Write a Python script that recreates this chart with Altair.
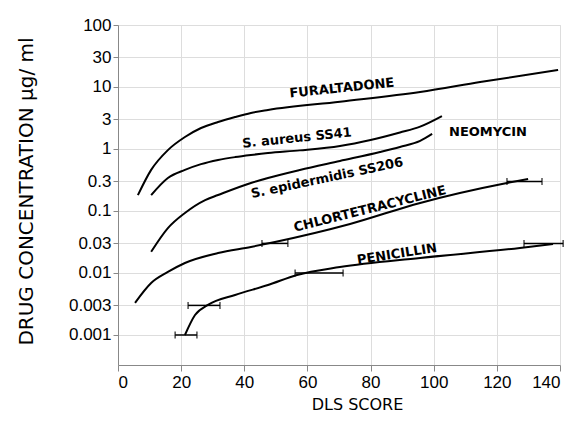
import altair as alt
import pandas as pd

# ---- data ----
fur_x = [6.3, 10.5, 15.8, 21.2, 26.3, 31.7, 37.1, 42.1, 47.5, 70.3, 95.7, 114.7, 139.4]
fur_y = [0.18, 0.46, 0.96, 1.56, 2.18, 2.73, 3.28, 3.81, 4.26, 5.8, 8.3, 12.0, 18.8]

aur_x = [10.5, 15.8, 21.2, 26.3, 31.7, 37.1, 42.1, 47.5, 57.6, 70.3, 80.0, 89.3, 95.7, 102.6]
aur_y = [0.18, 0.34, 0.46, 0.57, 0.665, 0.74, 0.80, 0.86, 0.95, 1.12, 1.4, 1.85, 2.3, 3.4]

epi_x = [10.5, 15.8, 21.2, 27.6, 31.7, 42.1, 47.5, 57.6, 70.3, 83.0, 89.3, 95.7, 99.5]
epi_y = [0.022, 0.053, 0.093, 0.150, 0.181, 0.283, 0.34, 0.458, 0.64, 0.895, 1.08, 1.35, 1.75]

chl_x = [5.4, 10.5, 15.8, 21.2, 31.7, 42.1, 49.7, 73.5, 95.7, 123.2, 129.9]
chl_y = [0.0033, 0.0069, 0.0104, 0.0145, 0.021, 0.0263, 0.0316, 0.0617, 0.135, 0.283, 0.328]

pen_x = [21.2, 24.4, 28.5, 37.1, 47.5, 56.7, 70.3, 95.7, 127.3, 137.8]
pen_y = [0.001, 0.0021, 0.00305, 0.00442, 0.0064, 0.0093, 0.0125, 0.0175, 0.0253, 0.0294]

# horizontal error bars: y level, x low, x high
err_y = [0.03, 0.3, 0.001, 0.003, 0.01, 0.03]
err_lo = [45.6, 123.2, 18.1, 22.2, 56.1, 128.6]
err_hi = [53.8, 134.3, 25.0, 32.3, 71.3, 141.0]

# curve labels
lab_text = ["FURALTADONE", "S. aureus  SS41", "S. epidermidis  SS206", "NEOMYCIN",
            "CHLORTETRACYCLINE", "PENICILLIN"]
lab_x = [70.9, 56.7, 66.2, 117.2, 79.8, 88.4]
lab_y = [9.6, 1.50, 0.34, 1.88, 0.108, 0.0202]
lab_angle = [354, 354, 348, 0, 346, 351]

y_tick_values = [100, 30, 10, 3, 1, 0.3, 0.1, 0.03, 0.01, 0.003, 0.001]
y_tick_labels = ["100", "30", "10", "3", "1", "0.3", "0.1", "0.03", "0.01", "0.003", "0.001"]
x_tick_values = [0, 10, 20, 30, 40, 50, 60, 70, 80, 90, 100, 110, 120, 130, 140]
x_tick_labels = ["0", "", "20", "", "40", "", "60", "", "80", "", "100", "", "120", "", "140"]

# ---- tables ----
def frame(name, xs, ys):
    return pd.DataFrame({"series": name, "x": xs, "y": ys})

curves = pd.concat([
    frame("Furaltadone", fur_x, fur_y),
    frame("S. aureus", aur_x, aur_y),
    frame("S. epidermidis", epi_x, epi_y),
    frame("Chlortetracycline", chl_x, chl_y),
    frame("Penicillin", pen_x, pen_y),
], ignore_index=True)

bars = pd.DataFrame({"y": err_y, "lo": err_lo, "hi": err_hi})
caps = pd.concat([
    pd.DataFrame({"y": err_y, "x": err_lo}),
    pd.DataFrame({"y": err_y, "x": err_hi}),
], ignore_index=True)
labels = pd.DataFrame({"text": lab_text, "x": lab_x, "y": lab_y, "angle": lab_angle})

FONT = "DejaVu Sans"

y_expr = "[" + ",".join("'%s'" % s for s in y_tick_labels) + "][indexof([" + \
    ",".join(repr(v) for v in y_tick_values) + "], datum.value)]"
x_expr = "[" + ",".join("'%s'" % s for s in x_tick_labels) + "][indexof([" + \
    ",".join(repr(v) for v in x_tick_values) + "], datum.value)]"

x_scale = alt.Scale(domain=[0, 140], nice=False, zero=False)
y_scale = alt.Scale(type="log", domain=[0.000328, 100], nice=False)

x_axis = alt.Axis(values=x_tick_values, labelExpr=x_expr, title="DLS SCORE",
                  titleX=239, titleY=44, titleBaseline="alphabetic",
                  titleFontSize=16, titleFontWeight="normal", titleFont=FONT,
                  labelFontSize=17, labelPadding=3, tickSize=6)
y_axis = alt.Axis(values=y_tick_values, labelExpr=y_expr,
                  title="DRUG CONCENTRATION   \u03bcg/ ml",
                  titleX=-86, titleY=166, titleAngle=270, titleBaseline="alphabetic",
                  titleFontSize=20, titleFontWeight="normal", titleFont=FONT,
                  labelFontSize=17, labelPadding=2, tickSize=5)

lines = alt.Chart(curves).mark_line(color="black", strokeWidth=2, interpolate="monotone").encode(
    x=alt.X("x:Q", scale=x_scale, axis=x_axis),
    y=alt.Y("y:Q", scale=y_scale, axis=y_axis),
    detail="series:N",
)

err_rules = alt.Chart(bars).mark_rule(color="black", strokeWidth=1.5).encode(
    x=alt.X("lo:Q", scale=x_scale),
    x2="hi:Q",
    y=alt.Y("y:Q", scale=y_scale),
)

err_caps = alt.Chart(caps).mark_tick(color="black", orient="vertical", size=7, thickness=1.5).encode(
    x=alt.X("x:Q", scale=x_scale),
    y=alt.Y("y:Q", scale=y_scale),
)

text = alt.Chart(labels).mark_text(font=FONT, fontSize=13, fontWeight="bold", color="black").encode(
    x=alt.X("x:Q", scale=x_scale),
    y=alt.Y("y:Q", scale=y_scale),
    text="text:N",
    angle=alt.Angle("angle:Q", scale=None),
)

chart = alt.layer(lines, err_rules, err_caps, text).properties(
    width=442, height=340,
    autosize=alt.AutoSizeParams(type="none"),
    padding={"left": 110, "top": 17, "right": 14, "bottom": 48},
).configure_view(strokeWidth=0).configure_axis(
    grid=False, domainColor="black", domainWidth=3, tickColor="black", tickWidth=2,
    labelColor="black", titleColor="black", labelFont=FONT,
).configure(background="white")

chart.save("out.html", embed_options={"renderer": "svg", "actions": False})
